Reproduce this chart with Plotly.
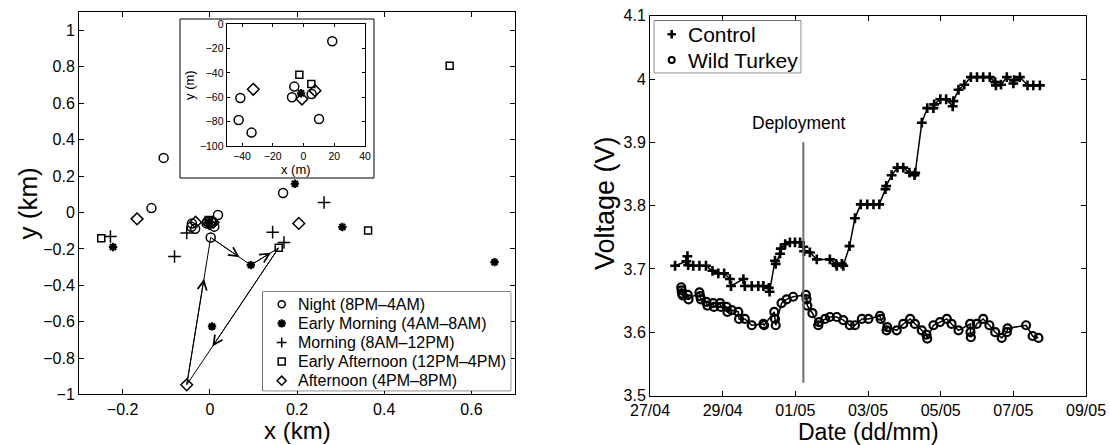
import pandas as pd
import plotly.graph_objects as go

FONT = "Liberation Sans, Arial, Helvetica, sans-serif"

# ---------------- GPS fixes (km) grouped by time of day ----------------
night_x = [-0.106, -0.134, 0.168, 0.002, 0.0187, -0.0060, -0.0075, 0.0053, 0.0101, -0.0411, -0.0422, -0.0338]
night_y = [0.300, 0.024, 0.107, -0.137, -0.0140, -0.0512, -0.0600, -0.0573, -0.0778, -0.0606, -0.0786, -0.0890]

early_morning_x = [0.195, 0.304, 0.653, -0.222, 0.094, 0.005, -0.0016]
early_morning_y = [0.158, -0.080, -0.273, -0.190, -0.289, -0.626, -0.0567]

morning_x = [-0.228, -0.081, -0.053, 0.144, 0.170, 0.262]
morning_y = [-0.132, -0.242, -0.113, -0.108, -0.165, 0.055]

early_afternoon_x = [-0.249, 0.158, 0.363, 0.550, -0.0027, 0.0051]
early_afternoon_y = [-0.141, -0.194, -0.099, 0.806, -0.0414, -0.0490]

afternoon_x = [-0.167, 0.204, -0.053, -0.0327, -0.0010, 0.0075]
afternoon_y = [-0.035, -0.060, -0.947, -0.0534, -0.0614, -0.0545]

period_names = [
    "Night (8PM\u20134AM)",
    "Early Morning (4AM\u20138AM)",
    "Morning (8AM\u201312PM)",
    "Early Afternoon (12PM\u20134PM)",
    "Afternoon (4PM\u20138PM)",
]

# one tracked day: night -> early morning -> early afternoon -> afternoon -> night
track_x = [0.002, 0.094, 0.158, -0.053, 0.002]
track_y = [-0.137, -0.289, -0.194, -0.947, -0.137]

# ---------------- battery voltage (days after 27/04 00:00) ----------------
ctrl_day = [0.69, 1.00, 1.03, 1.05, 1.19, 1.36, 1.54, 1.72, 1.88, 2.04, 2.20, 2.23, 2.57, 2.61,
            2.80, 2.98, 3.12, 3.27, 3.29, 3.44, 3.46, 3.58, 3.60, 3.72, 3.85, 3.99, 4.13, 4.22,
            4.24, 4.40, 4.59, 4.95, 5.12, 5.14, 5.28, 5.32, 5.49, 5.64, 5.80, 5.98, 6.15, 6.31,
            6.48, 6.50, 6.65, 6.81, 6.97, 7.14, 7.28, 7.30, 7.48, 7.63, 7.80, 7.82, 7.99, 8.15,
            8.33, 8.35, 8.49, 8.65, 8.83, 9.00, 9.17, 9.35, 9.50, 9.52, 9.66, 9.82, 10.00, 10.02,
            10.18, 10.39, 10.55, 10.73]
ctrl_v = [3.705, 3.712, 3.720, 3.706, 3.705, 3.705, 3.705, 3.697, 3.693, 3.693, 3.684, 3.673, 3.684, 3.673,
          3.673, 3.673, 3.673, 3.670, 3.664, 3.713, 3.708, 3.724, 3.732, 3.739, 3.742, 3.742, 3.742, 3.735,
          3.728, 3.726, 3.715, 3.715, 3.708, 3.705, 3.708, 3.705, 3.736, 3.780, 3.802, 3.802, 3.802, 3.802,
          3.826, 3.831, 3.848, 3.860, 3.860, 3.852, 3.848, 3.852, 3.931, 3.954, 3.954, 3.960, 3.968, 3.968,
          3.957, 3.965, 3.983, 3.991, 4.003, 4.003, 4.003, 4.003, 3.995, 3.990, 3.991, 4.003, 3.993, 3.998,
          4.003, 3.990, 3.990, 3.990]

wt_day = [0.86, 0.87, 0.88, 0.90, 1.04, 1.06, 1.36, 1.38, 1.40, 1.55, 1.58, 1.74, 1.76, 1.93, 1.95,
          2.11, 2.13, 2.25, 2.43, 2.45, 2.61, 2.80, 3.12, 3.14, 3.42, 3.44, 3.46, 3.62, 3.76, 3.94,
          4.29, 4.31, 4.33, 4.47, 4.63, 4.65, 4.82, 4.95, 5.14, 5.32, 5.50, 5.64, 5.83, 6.01, 6.33,
          6.35, 6.51, 6.53, 6.79, 6.97, 7.16, 7.29, 7.48, 7.61, 7.63, 7.80, 7.98, 8.17, 8.30, 8.49,
          8.81, 8.82, 8.83, 8.99, 9.17, 9.34, 9.50, 9.68, 9.82, 9.84, 10.35, 10.53, 10.69]
wt_v = [3.671, 3.666, 3.661, 3.658, 3.659, 3.652, 3.663, 3.657, 3.652, 3.648, 3.642, 3.646, 3.640, 3.646, 3.640,
        3.640, 3.632, 3.635, 3.632, 3.621, 3.621, 3.611, 3.613, 3.611, 3.632, 3.621, 3.611, 3.646, 3.652, 3.656,
        3.659, 3.652, 3.642, 3.630, 3.611, 3.616, 3.621, 3.624, 3.624, 3.619, 3.611, 3.611, 3.621, 3.621, 3.626,
        3.621, 3.603, 3.608, 3.603, 3.613, 3.621, 3.613, 3.603, 3.596, 3.590, 3.611, 3.616, 3.621, 3.613, 3.603,
        3.613, 3.600, 3.592, 3.613, 3.621, 3.611, 3.600, 3.591, 3.600, 3.606, 3.611, 3.594, 3.591]

series_names = ["Control", "Wild Turkey"]

deploy_day = 4.22
deploy_v = [3.52, 3.90]

t0 = pd.Timestamp("2011-04-27")
to_time = lambda days: [t0 + pd.Timedelta(days=d) for d in days]

W, H = 1110, 445
px_x = lambda p: p / W
px_y = lambda p: 1 - p / H

# ---------------- figure ----------------
fig = go.Figure()
annotations = []
shapes = []

# track with direction arrows
fig.add_trace(go.Scatter(x=track_x, y=track_y, mode="lines", xaxis="x", yaxis="y",
                         line=dict(color="black", width=1), showlegend=False, hoverinfo="skip"))

groups = [
    (night_x, night_y, "circle-open", 9, 1.5),
    (early_morning_x, early_morning_y, "asterisk-open", 7, 2.2),
    (morning_x, morning_y, "cross-thin-open", 9, 1.5),
    (early_afternoon_x, early_afternoon_y, "square-open", 7, 1.5),
    (afternoon_x, afternoon_y, "diamond-open", 9, 1.5),
]
for name, (gx, gy, sym, sz, lw) in zip(period_names, groups):
    mk = dict(symbol=sym, size=sz, color="black", line=dict(color="black", width=lw))
    fig.add_trace(go.Scatter(x=gx, y=gy, mode="markers", name=name, marker=mk,
                             xaxis="x", yaxis="y", showlegend=False))
    # zoomed view of the cluster around the origin, in metres
    fig.add_trace(go.Scatter(x=[v * 1000 for v in gx], y=[v * 1000 for v in gy], mode="markers",
                             marker=mk, xaxis="x3", yaxis="y3", showlegend=False))

frac = 0.72
for i in range(len(track_x) - 1):
    x0, y0, x1, y1 = track_x[i], track_y[i], track_x[i + 1], track_y[i + 1]
    annotations.append(dict(x=x0 + frac * (x1 - x0), y=y0 + frac * (y1 - y0), ax=x0, ay=y0,
                            xref="x", yref="y", axref="x", ayref="y", text="", showarrow=True,
                            arrowhead=5, arrowsize=1.8, arrowwidth=1, arrowcolor="black", standoff=0))

# voltage traces
ctrl_marker = dict(symbol="cross-thin", size=7, color="black", line=dict(color="black", width=2.6))
wt_marker = dict(symbol="circle-open", size=8, color="black", line=dict(color="black", width=2.2))
fig.add_trace(go.Scatter(x=to_time(ctrl_day), y=ctrl_v, mode="lines+markers", name=series_names[0],
                         xaxis="x2", yaxis="y2", showlegend=False,
                         line=dict(color="black", width=1.5), marker=ctrl_marker))
fig.add_trace(go.Scatter(x=to_time(wt_day), y=wt_v, mode="lines+markers", name=series_names[1],
                         xaxis="x2", yaxis="y2", showlegend=False,
                         line=dict(color="black", width=1.5), marker=wt_marker))

dep_t = to_time([deploy_day])[0]
fig.add_trace(go.Scatter(x=[dep_t, dep_t], y=deploy_v, mode="lines", xaxis="x2", yaxis="y2",
                         line=dict(color="#6e6e6e", width=2), showlegend=False, hoverinfo="skip"))
annotations.append(dict(x=dep_t, y=3.931, xref="x2", yref="y2", text="Deployment", showarrow=False,
                        xshift=-4, font=dict(size=17.5, color="black", family=FONT)))


# ---------------- boxed legends (compact rows, marker-only keys) ----------------
def boxed_legend(ax_x, ax_y, box, labels, markers, row_h, first_row, key_x, text_x, font_size):
    left, top, right, bottom = box
    shapes.append(dict(type="rect", xref="paper", yref="paper",
                       x0=px_x(left), x1=px_x(right), y0=px_y(bottom), y1=px_y(top),
                       line=dict(color="black", width=1), fillcolor="white", layer="below"))
    w, h = right - left, bottom - top
    for k, (lab, mk) in enumerate(zip(labels, markers)):
        yc = first_row + k * row_h
        fig.add_trace(go.Scatter(x=[key_x], y=[yc], mode="markers", marker=mk, xaxis=ax_x, yaxis=ax_y,
                                 showlegend=False, hoverinfo="skip"))
        annotations.append(dict(x=text_x, y=yc, xref=ax_x, yref=ax_y, text=lab, showarrow=False,
                                xanchor="left", yanchor="middle",
                                font=dict(size=font_size, color="black", family=FONT)))
    return dict(domain=[px_x(left), px_x(right)], range=[0, w], visible=False, fixedrange=True), \
        dict(domain=[px_y(bottom), px_y(top)], range=[h, 0], visible=False, fixedrange=True)


left_keys = [dict(symbol=s, size=7, color="black", line=dict(color="black", width=lw))
             for (_, _, s, _, lw) in groups]
lx4, ly4 = boxed_legend("x4", "y4", (262.7, 292.0, 510.7, 390.7), period_names, left_keys,
                        19.1, 12.3, 19.0, 33.5, 16)
right_keys = [dict(ctrl_marker, size=6), dict(wt_marker, size=6, line=dict(color="black", width=2))]
lx5, ly5 = boxed_legend("x5", "y5", (654.3, 20.7, 800.7, 72.7), series_names, right_keys,
                        25.7, 13.6, 17.4, 31.5, 21)

# axis titles, placed in the space below / left of each panel
titles = [
    ("x (km)", px_x(297), 0, 0, "bottom", 0, 24),
    ("Date (dd/mm)", px_x(868), 0, 0, "bottom", -1, 23),
    ("y (km)", px_x(27), px_y(203.5), -90, "middle", 0, 26),
    ("Voltage (V)", px_x(605), px_y(203), -90, "middle", 0, 27),
]
for text, tx, ty, ang, yanc, ysh, fs in titles:
    annotations.append(dict(text=text, x=tx, y=ty, xref="paper", yref="paper", showarrow=False,
                            textangle=ang, xanchor="center", yanchor=yanc, yshift=ysh,
                            borderpad=0, font=dict(size=fs, color="black", family=FONT)))

axis_common = dict(showline=True, linecolor="black", linewidth=1, mirror="ticks", ticks="inside",
                   ticklen=5, tickcolor="black", showgrid=False, zeroline=False, automargin=False,
                   tickfont=dict(size=16, color="black", family=FONT))
inset_font = dict(size=10.5, color="black", family=FONT)

# frame around the inset
shapes.append(dict(type="rect", xref="paper", yref="paper", x0=px_x(180), x1=px_x(374),
                   y0=px_y(178), y1=px_y(19), line=dict(color="black", width=1),
                   fillcolor="white", layer="below"))

fig.update_layout(
    width=W, height=H, margin=dict(l=0, r=0, t=0, b=0),
    paper_bgcolor="white", plot_bgcolor="white",
    font=dict(family=FONT, color="black"),
    xaxis=dict(axis_common, domain=[0.0712, 0.4640], range=[-0.3, 0.7], tick0=0, dtick=0.2, anchor="y"),
    yaxis=dict(axis_common, domain=[0.1135, 0.9724], range=[-1, 1.1], tick0=0, dtick=0.2, anchor="x"),
    xaxis3=dict(axis_common, domain=[0.2042, 0.3288], range=[-50, 40], tick0=0, dtick=20, ticklen=3,
                tickfont=inset_font, title=dict(text="x (m)", font=dict(size=13), standoff=2),
                anchor="y3"),
    yaxis3=dict(axis_common, domain=[0.6719, 0.9454], range=[-100, 0], tick0=0, dtick=20, ticklen=3,
                tickfont=inset_font, title=dict(text="y (m)", font=dict(size=13), standoff=2),
                anchor="x3"),
    xaxis2=dict(axis_common, type="date", domain=[0.5856, 0.9784],
                range=[t0, t0 + pd.Timedelta(days=12)], tick0=t0, dtick=2 * 86400000,
                tickformat="%d/%m", anchor="y2"),
    yaxis2=dict(axis_common, domain=[px_y(395.5), 0.9647], range=[3.5, 4.1], dtick=0.1, anchor="x2"),
    xaxis4=dict(lx4, anchor="y4"), yaxis4=dict(ly4, anchor="x4"),
    xaxis5=dict(lx5, anchor="y5"), yaxis5=dict(ly5, anchor="x5"),
    annotations=annotations,
    shapes=shapes,
    showlegend=False,
)

fig.write_html("out.html")
